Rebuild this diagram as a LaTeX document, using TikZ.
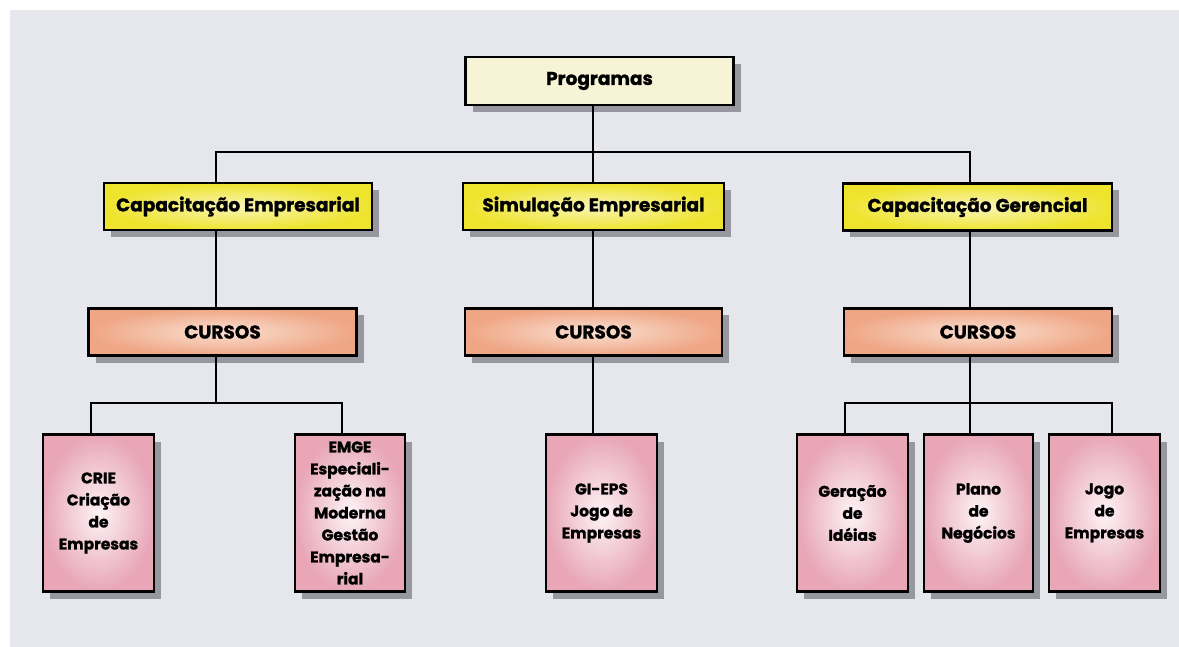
\documentclass[tikz,border=0pt]{standalone}
\usepackage{fontspec}
\setmainfont{Poppins}[BoldFeatures={FakeBold=1.3}]
\usetikzlibrary{shadows}
\definecolor{bgpaper}{HTML}{E6E7EC}
\definecolor{topfill}{HTML}{F6F3D6}
\definecolor{yelout}{HTML}{EEE42E}
\definecolor{yelin}{HTML}{FAF5B8}
\definecolor{salout}{HTML}{EFA685}
\definecolor{salin}{HTML}{FAE0D2}
\definecolor{pinkout}{HTML}{E8A6B7}
\definecolor{pinkin}{HTML}{FDF4F6}
\definecolor{shade}{HTML}{8F8F98}
\tikzset{
  box/.style={draw=black, line width=2.2pt, rectangle, inner sep=0pt, align=center,
    font=\bfseries,
    drop shadow={shadow xshift=7pt, shadow yshift=-7pt, fill=shade, opacity=0.9}},
  topbox/.style={box, fill=topfill, minimum height=48pt, font=\fontsize{18.5}{22}\bfseries},
  areabox/.style={box, inner color=yelin, outer color=yelout, minimum height=47pt,
    font=\fontsize{18.5}{22}\bfseries},
  cursobox/.style={box, inner color=salin, outer color=salout, minimum height=47pt,
    font=\fontsize{18.5}{22}\bfseries},
  itembox/.style={box, inner color=pinkin, outer color=pinkout, minimum width=111pt,
    minimum height=157pt, font=\fontsize{15.5}{22}\bfseries},
  wire/.style={draw=black, line width=1.8pt}
}
\begin{document}
\begin{tikzpicture}[x=1pt, y=-1pt]
  \useasboundingbox (0,0) rectangle (1179,647);
  \fill[bgpaper] (10,10) rectangle (1179,647);

  % bus positions
  \coordinate (xL) at (216,0);
  \coordinate (xM) at (593,0);
  \coordinate (xR) at (970,0);
  \coordinate (busTop) at (593,152);
  \coordinate (busL) at (216,403);
  \coordinate (busR) at (970,403);

  % top level
  \node[topbox, minimum width=268pt] (prog) at (599.5,81) {Programas};

  % programme areas
  \node[areabox, minimum width=268pt] (capE) at (238,206.5) {Capacitação Empresarial};
  \node[areabox, minimum width=261pt] (simE) at (593.5,206.5) {Simulação Empresarial};
  \node[areabox, minimum width=269pt] (capG) at (977.5,207) {Capacitação Gerencial};

  % course headers
  \node[cursobox, minimum width=268pt] (curL) at (222.5,332) {CURSOS};
  \node[cursobox, minimum width=257pt] (curM) at (593.5,332) {CURSOS};
  \node[cursobox, minimum width=268pt] (curR) at (978,332) {CURSOS};

  % courses
  \node[itembox] (crie) at (98.5,513) {CRIE\\Criação\\de\\Empresas};
  \node[itembox, minimum width=110pt] (emge) at (350,513) {EMGE\\Especiali-\\zação na\\Moderna\\Gestão\\Empresa-\\rial};
  \node[itembox] (gieps) at (601.5,513) {GI-EPS\\Jogo de\\Empresas};
  \node[itembox] (ger) at (852.5,513) {Geração\\de\\Idéias};
  \node[itembox, minimum width=109pt] (plano) at (978.5,513) {Plano\\de\\Negócios};
  \node[itembox] (jogo) at (1104.5,513) {Jogo\\de\\Empresas};

  % tree wiring
  \draw[wire] (prog.south -| xM) -- (busTop);
  \draw[wire] (capE.north -| xL) |- (busTop) -| (capG.north -| xR);
  \draw[wire] (busTop) -- (simE.north -| xM);

  \draw[wire] (capE.south -| xL) -- (curL.north -| xL);
  \draw[wire] (simE.south -| xM) -- (curM.north -| xM);
  \draw[wire] (capG.south -| xR) -- (curR.north -| xR);

  \draw[wire] (curL.south -| xL) -- (busL);
  \draw[wire] (crie.north -| 91,0) |- (busL) -| (emge.north -| 342,0);

  \draw[wire] (curM.south -| xM) -- (gieps.north -| xM);

  \draw[wire] (curR.south -| xR) -- (busR);
  \draw[wire] (ger.north -| 845,0) |- (busR) -| (jogo.north -| 1112,0);
  \draw[wire] (busR) -- (plano.north -| busR);
\end{tikzpicture}
\end{document}
